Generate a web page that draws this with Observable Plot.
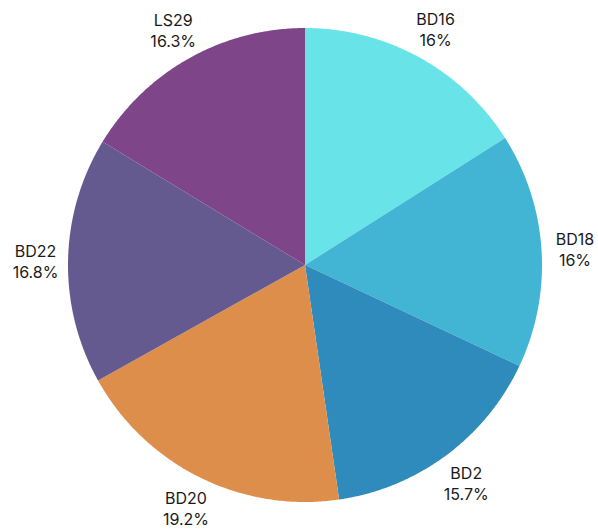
<!DOCTYPE html>
<html>
<head>
<meta charset="utf-8">
<script src="https://cdn.jsdelivr.net/npm/d3@7"></script>
<script src="https://cdn.jsdelivr.net/npm/@observablehq/plot@0.6"></script>
<style>
  html, body { margin: 0; padding: 0; background: #fff; }
  #chart { width: 598px; height: 531px; }
</style>
</head>
<body>
<div id="chart"></div>
<script>
const names = ["BD16", "BD18", "BD2", "BD20", "BD22", "LS29"];
const values = [16, 16, 15.7, 19.2, 16.8, 16.3];
const colors = ["#68E4E9", "#42B5D5", "#2E8BBB", "#DC8E4A", "#645A90", "#7E4689"];

const W = 598, H = 531;
const cx = 305, cy = 265;
const R = 237, LR = 270;

const arcs = d3.pie().sort(null).value(d => d.value)(names.map((n, i) => ({name: n, value: values[i]})));

const pts = [];
arcs.forEach(a => {
  const n = Math.max(2, Math.ceil((a.endAngle - a.startAngle) / (Math.PI / 360)));
  for (let k = 0; k <= n; k++) {
    const t = a.startAngle + (a.endAngle - a.startAngle) * k / n;
    pts.push({name: a.data.name, x: Math.sin(t) * R, y: Math.cos(t) * R});
  }
});

const labels = arcs.map(a => {
  const m = (a.startAngle + a.endAngle) / 2;
  return {name: a.data.name, text: a.data.name + "\n" + a.data.value + "%", x: Math.sin(m) * LR, y: Math.cos(m) * LR};
});

const chart = Plot.plot({
  width: W, height: H,
  margin: 0,
  x: {domain: [-cx, W - cx], axis: null},
  y: {domain: [-(H - cy), cy], axis: null},
  color: {domain: names, range: colors},
  marks: [
    Plot.area(pts, {x1: "x", y1: "y", x2: d => 0, y2: d => 0, z: "name", fill: "name", curve: "linear"}),
    Plot.text(labels, {x: "x", y: "y", text: "text", fontSize: 16, fill: "#1a1a1a", lineHeight: 1.32, fontFamily: "Inter, Lato, sans-serif"})
  ],
  style: {fontFamily: "Inter, Lato, sans-serif", background: "#fff"}
});
document.getElementById("chart").appendChild(chart);
</script>
</body>
</html>
